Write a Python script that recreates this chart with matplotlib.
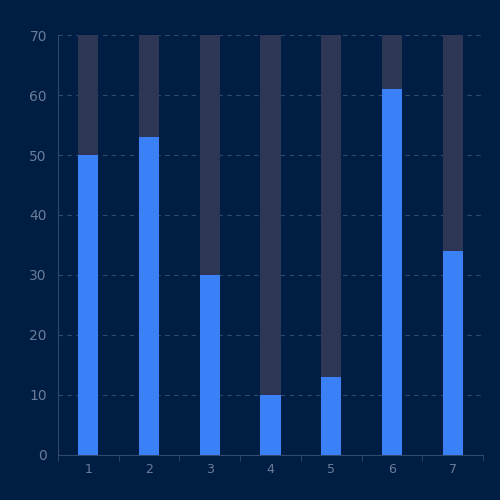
import matplotlib.pyplot as plt
import numpy as np

categories = ['1', '2', '3', '4', '5', '6', '7']
values = [50, 53, 30, 10, 13, 61, 34]
max_value = 70

bg = '#001e44'
fig = plt.figure(figsize=(5, 5), dpi=100, facecolor=bg)
ax = fig.add_axes([0.116, 0.09, 0.85, 0.84], facecolor=bg)

x = np.arange(len(categories))
ax.bar(x, [max_value] * len(x), width=0.33, color='#2d3654', zorder=2)
ax.bar(x, values, width=0.33, color='#3a80f6', zorder=3)

ax.set_xlim(-0.5, len(x) - 0.5)
ax.set_ylim(0, max_value)
ax.set_yticks(range(0, 71, 10))
ax.set_xticks(x)
ax.set_xticklabels(categories)
ax.set_xticks(np.arange(-0.5, len(x), 1), minor=True)
ax.tick_params(axis='x', which='major', length=0, colors='#6b7c99', labelsize=9, pad=6)
ax.tick_params(axis='x', which='minor', length=4, color='#33496b')
ax.tick_params(axis='y', length=0, colors='#6b7c99', labelsize=10, pad=8)
ax.grid(axis='y', color='#33496b', linestyle=(0, (4, 4)), linewidth=0.8, zorder=1)
for s in ['top', 'right']:
    ax.spines[s].set_visible(False)
ax.spines['left'].set_color('#33496b')
ax.spines['bottom'].set_color('#33496b')

fig.savefig('out.png', facecolor=bg)
